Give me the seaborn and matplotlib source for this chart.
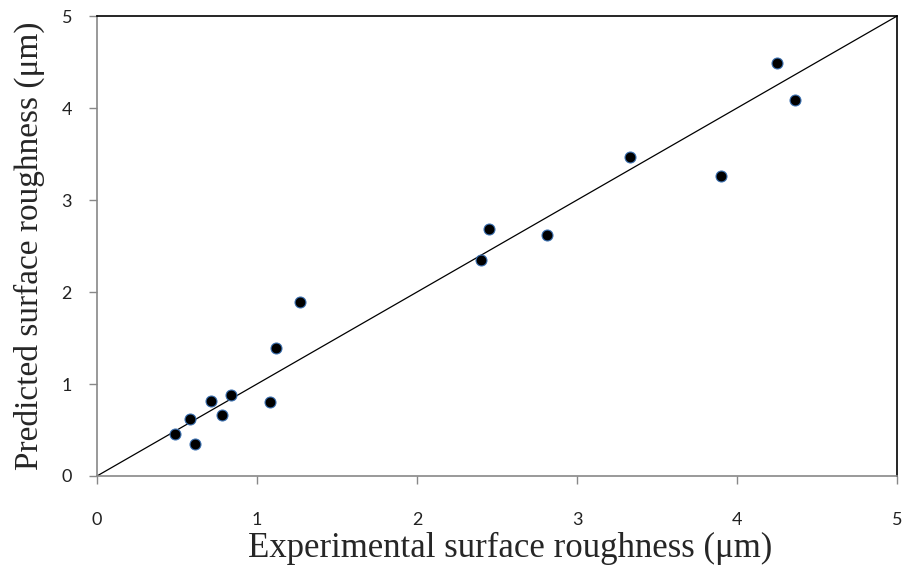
import matplotlib.pyplot as plt
import seaborn as sns
import pandas as pd

# Experimental vs predicted surface roughness (um)
experimental = [0.49, 0.58, 0.61, 0.71, 0.78, 0.84, 1.08, 1.12, 1.27,
                2.40, 2.45, 2.81, 3.33, 3.90, 4.25, 4.36]
predicted = [0.46, 0.62, 0.35, 0.82, 0.66, 0.88, 0.80, 1.39, 1.89,
             2.35, 2.68, 2.62, 3.47, 3.26, 4.49, 4.09]

# 1:1 reference line
ideal = [0, 5]
ticks = [0, 1, 2, 3, 4, 5]

df = pd.DataFrame({'exp': experimental, 'pred': predicted})
df_line = pd.DataFrame({'x': ideal, 'y': ideal})

sns.set_style('white')
fig = plt.figure(figsize=(9.04, 5.73), dpi=100)
ax = fig.add_axes([0.1073, 0.1693, 0.8850, 0.8027])

sns.lineplot(data=df_line, x='x', y='y', color='black', linewidth=0.9, ax=ax)
sns.scatterplot(data=df, x='exp', y='pred', color='black', s=62,
                edgecolor='#3a6fb0', linewidth=0.8, zorder=3, ax=ax)

ax.set_xlim(0, 5)
ax.set_ylim(0, 5)
ax.set_xticks(ticks)
ax.set_yticks(ticks)
ax.tick_params(axis='both', direction='out', length=6, width=1,
               color='#888888', labelsize=13, labelcolor='#222222',
               bottom=True, left=True)
ax.tick_params(axis='x', pad=20)
ax.tick_params(axis='y', pad=12)
for lab in ax.get_xticklabels() + ax.get_yticklabels():
    lab.set_family('Lato')
for side in ['left', 'bottom']:
    ax.spines[side].set_color('#888888')
    ax.spines[side].set_linewidth(1.2)
for side in ['top', 'right']:
    ax.spines[side].set_color('black')
    ax.spines[side].set_linewidth(1.2)

ax.set_xlabel('Experimental surface roughness (μm)', family='Liberation Serif',
              fontsize=25)
ax.set_ylabel('Predicted surface roughness (μm)', family='Liberation Serif',
              fontsize=24, labelpad=12)
ax.xaxis.set_label_coords(0.517, -0.122)

plt.savefig('out.png', dpi=100)
